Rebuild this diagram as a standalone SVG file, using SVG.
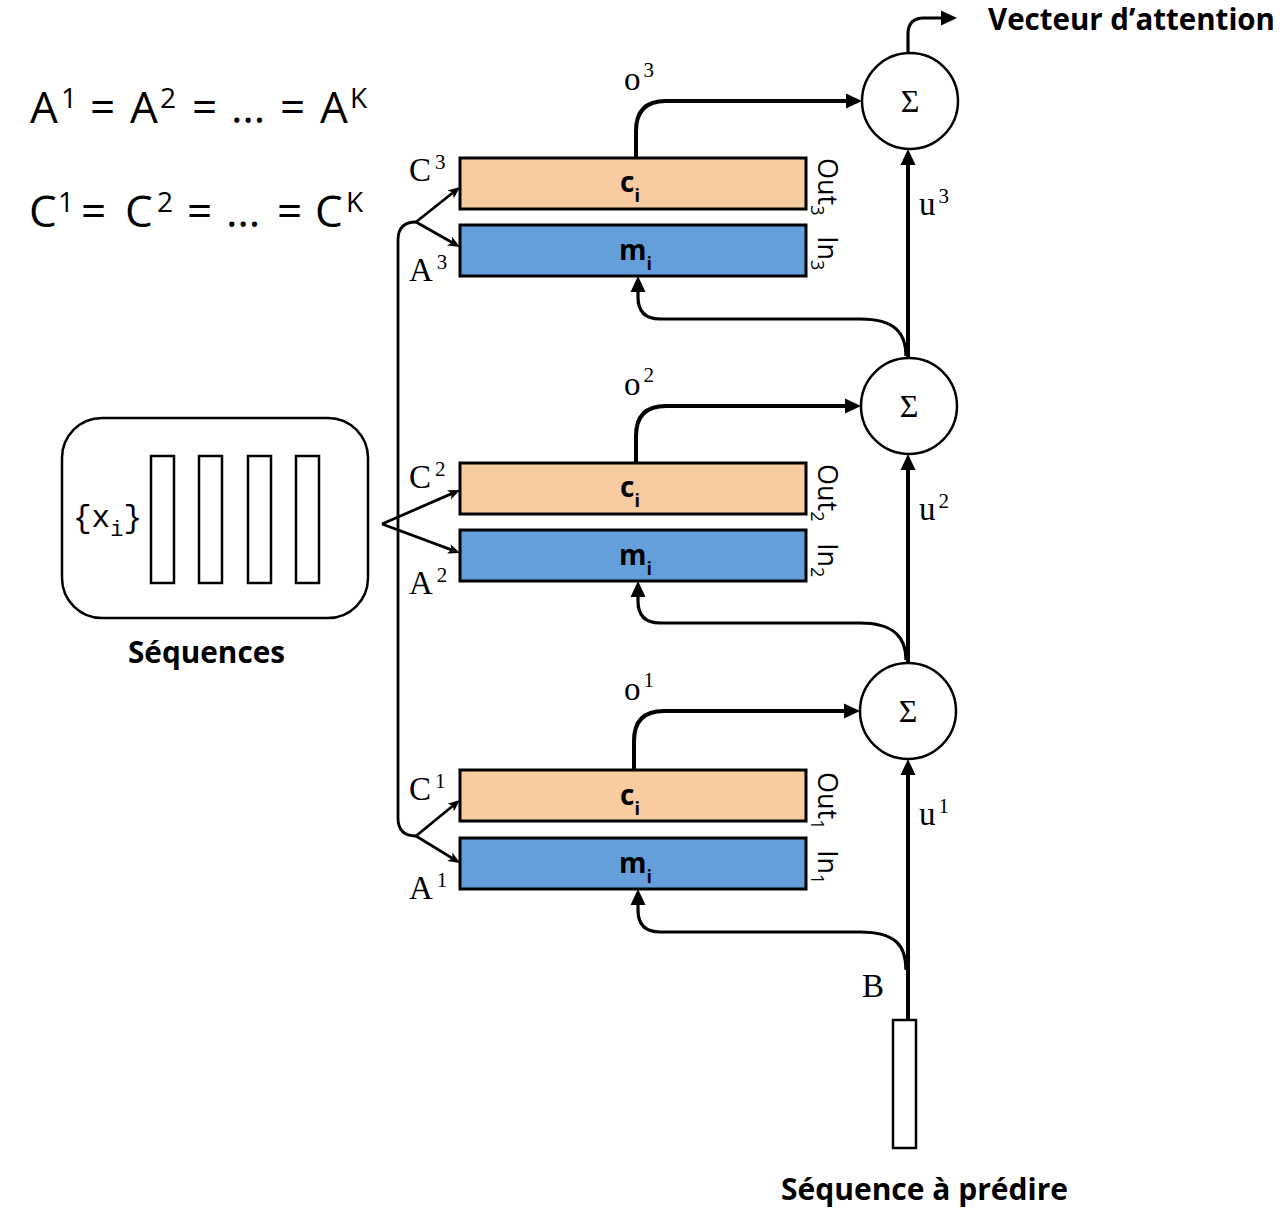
<svg xmlns="http://www.w3.org/2000/svg" width="1287" height="1218" viewBox="0 0 1287 1218">
<style>
.mono{font-family:"Liberation Mono","DejaVu Sans Mono",monospace;fill:#000}
.lbl{font-family:"Liberation Serif","DejaVu Serif",serif;fill:#000}
.sans{font-family:"Open Sans","Noto Sans","Liberation Sans",sans-serif;fill:#000}
.serif{font-family:"Liberation Serif","DejaVu Serif",serif;fill:#000}
.b{font-weight:bold}
.cbox{fill:#F8CBA0;stroke:#000;stroke-width:3}
.mbox{fill:#659FDB;stroke:#000;stroke-width:3}
.sum{fill:#fff;stroke:#000;stroke-width:2.5}
.thick{fill:none;stroke:#000;stroke-width:4}
.mid{fill:none;stroke:#000;stroke-width:3.2}
.thin{fill:none;stroke:#000;stroke-width:2.8}
.bar{fill:#fff;stroke:#000;stroke-width:2.5}
</style>
<defs>
<marker id="ah" markerUnits="userSpaceOnUse" markerWidth="20" markerHeight="20" refX="0" refY="0" orient="auto" overflow="visible">
<path d="M0,-7.5 L16,0 L0,7.5 z" fill="#000"/>
</marker>
<marker id="sa" markerUnits="userSpaceOnUse" markerWidth="16" markerHeight="16" refX="0" refY="0" orient="auto" overflow="visible">
<path d="M-8,-5 L4,0 L-8,5 L-5,0 z" fill="#000"/>
</marker>
</defs>
<rect width="1287" height="1218" fill="#fff"/>

<g id="equations">
<text class="sans" font-size="44"><tspan x="30" y="123">A</tspan><tspan x="61" y="108" font-size="28">1</tspan><tspan x="90" y="123">=</tspan><tspan x="130" y="123">A</tspan><tspan x="160" y="108" font-size="28">2</tspan><tspan x="192" y="123">=</tspan><tspan x="231" y="123">…</tspan><tspan x="280" y="123">=</tspan><tspan x="320" y="123">A</tspan><tspan x="350" y="108" font-size="28">K</tspan></text>
<text class="sans" font-size="44"><tspan x="29" y="227">C</tspan><tspan x="58" y="212" font-size="28">1</tspan><tspan x="81" y="227">=</tspan><tspan x="125" y="227">C</tspan><tspan x="157" y="212" font-size="28">2</tspan><tspan x="187" y="227">=</tspan><tspan x="226" y="227">…</tspan><tspan x="277" y="227">=</tspan><tspan x="315" y="227">C</tspan><tspan x="346" y="212" font-size="28">K</tspan></text>
</g>

<g id="sequences">
<rect x="62" y="418" width="306" height="200" rx="40" ry="40" fill="#fff" stroke="#000" stroke-width="2.5"/>
<rect class="bar" x="151" y="456" width="23" height="127"/>
<rect class="bar" x="199" y="456" width="23" height="127"/>
<rect class="bar" x="248" y="456" width="23" height="127"/>
<rect class="bar" x="296" y="456" width="23" height="127"/>
<text class="mono" x="73" y="527" font-size="31">{x<tspan font-size="22" dy="9">i</tspan><tspan dy="-9">}</tspan></text>
<text class="sans b" x="128" y="663" font-size="30" textLength="157" lengthAdjust="spacingAndGlyphs">Séquences</text>
</g>

<g id="block3">
<rect class="cbox" x="460" y="158" width="346" height="51"/>
<rect class="mbox" x="460" y="225" width="346" height="51"/>
<text class="sans b" x="620" y="192" font-size="28">c<tspan font-size="18" dy="10">i</tspan></text>
<text class="sans b" x="619" y="260" font-size="28">m<tspan font-size="18" dy="10">i</tspan></text>
<text class="lbl" x="409" y="181" font-size="33">C<tspan font-size="21" dy="-12" dx="4">3</tspan></text>
<text class="lbl" x="409" y="281" font-size="33">A<tspan font-size="21" dy="-12" dx="4">3</tspan></text>
<text class="sans" transform="translate(818,158) rotate(90)" font-size="27">Out<tspan font-size="18" dy="7">3</tspan></text>
<text class="sans" transform="translate(818,236) rotate(90)" font-size="27">In<tspan font-size="18" dy="7">3</tspan></text>
<text class="lbl" x="624" y="90" font-size="33">o<tspan font-size="21" dy="-13" dx="3">3</tspan></text>
</g>

<g id="block2">
<rect class="cbox" x="460" y="463" width="346" height="51"/>
<rect class="mbox" x="460" y="530" width="346" height="51"/>
<text class="sans b" x="620" y="497" font-size="28">c<tspan font-size="18" dy="10">i</tspan></text>
<text class="sans b" x="619" y="565" font-size="28">m<tspan font-size="18" dy="10">i</tspan></text>
<text class="lbl" x="409" y="488" font-size="33">C<tspan font-size="21" dy="-12" dx="4">2</tspan></text>
<text class="lbl" x="409" y="594" font-size="33">A<tspan font-size="21" dy="-12" dx="4">2</tspan></text>
<text class="sans" transform="translate(818,464) rotate(90)" font-size="27">Out<tspan font-size="18" dy="7">2</tspan></text>
<text class="sans" transform="translate(818,543) rotate(90)" font-size="27">In<tspan font-size="18" dy="7">2</tspan></text>
<text class="lbl" x="624" y="395" font-size="33">o<tspan font-size="21" dy="-13" dx="3">2</tspan></text>
</g>

<g id="block1">
<rect class="cbox" x="460" y="770" width="346" height="51"/>
<rect class="mbox" x="460" y="838" width="346" height="51"/>
<text class="sans b" x="620" y="805" font-size="28">c<tspan font-size="18" dy="10">i</tspan></text>
<text class="sans b" x="619" y="873" font-size="28">m<tspan font-size="18" dy="10">i</tspan></text>
<text class="lbl" x="409" y="800" font-size="33">C<tspan font-size="21" dy="-12" dx="4">1</tspan></text>
<text class="lbl" x="409" y="899" font-size="33">A<tspan font-size="21" dy="-12" dx="4">1</tspan></text>
<text class="sans" transform="translate(818,772) rotate(90)" font-size="27">Out<tspan font-size="18" dy="7">1</tspan></text>
<text class="sans" transform="translate(818,850) rotate(90)" font-size="27">In<tspan font-size="18" dy="7">1</tspan></text>
<text class="lbl" x="624" y="700" font-size="33">o<tspan font-size="21" dy="-13" dx="3">1</tspan></text>
</g>

<g id="sum3">
<circle class="sum" cx="910" cy="101" r="48"/>
<text class="serif" x="910" y="112" text-anchor="middle" font-size="32">Σ</text>
</g>
<g id="sum2">
<circle class="sum" cx="909" cy="406" r="48"/>
<text class="serif" x="909" y="417" text-anchor="middle" font-size="32">Σ</text>
</g>
<g id="sum1">
<circle class="sum" cx="908" cy="711" r="48"/>
<text class="serif" x="908" y="722" text-anchor="middle" font-size="32">Σ</text>
</g>

<g id="query">
<rect x="893" y="1020" width="23" height="128" fill="#fff" stroke="#000" stroke-width="2.5"/>
<text class="lbl" x="862" y="997" font-size="33">B</text>
<text class="sans b" x="781" y="1200" font-size="30" textLength="287" lengthAdjust="spacingAndGlyphs">Séquence à prédire</text>
</g>

<g id="output">
<text class="sans b" x="988" y="30" font-size="30" textLength="287" lengthAdjust="spacingAndGlyphs">Vecteur d’attention</text>
</g>

<g id="u-labels">
<text class="lbl" x="919" y="215" font-size="33">u<tspan font-size="21" dy="-12" dx="3">3</tspan></text>
<text class="lbl" x="919" y="520" font-size="33">u<tspan font-size="21" dy="-12" dx="3">2</tspan></text>
<text class="lbl" x="919" y="825" font-size="33">u<tspan font-size="21" dy="-12" dx="3">1</tspan></text>
</g>

<g id="connectors">
<path class="thin" d="M416 222 Q398 222 398 240 L398 818 Q398 836 416 836"/>
<path class="thin" d="M416 222 L456.9 189.5" marker-end="url(#sa)"/>
<path class="thin" d="M416 222 L456.5 245" marker-end="url(#sa)"/>
<path class="thin" d="M382 524 L456.3 491.6" marker-end="url(#sa)"/>
<path class="thin" d="M382 524 L456.3 551.6" marker-end="url(#sa)"/>
<path class="thin" d="M416 836 L456.9 802.5" marker-end="url(#sa)"/>
<path class="thin" d="M416 836 L456.6 860.9" marker-end="url(#sa)"/>
<path class="thick" d="M636 157 L636 131 Q636 101 666 101 L846 101" marker-end="url(#ah)"/>
<path class="thick" d="M636 463 L636 436 Q636 406 666 406 L845 406" marker-end="url(#ah)"/>
<path class="thick" d="M634 770 L634 741 Q634 711 664 711 L844 711" marker-end="url(#ah)"/>
<path class="thick" d="M908 1020 L908 775" marker-end="url(#ah)"/>
<path class="thick" d="M908 663 L908 470" marker-end="url(#ah)"/>
<path class="thick" d="M908 358 L908 165" marker-end="url(#ah)"/>
<path class="mid" d="M908 53 L908 34 Q908 18 924 18 L941 18" marker-end="url(#ah)"/>
<path class="mid" d="M906 970 C906 945 895 932 860 932 L660 932 Q638 932 638 910 L638 905" marker-end="url(#ah)"/>
<path class="mid" d="M906 660 C906 638 895 623 860 623 L660 623 Q638 623 638 601 L638 597" marker-end="url(#ah)"/>
<path class="mid" d="M906 356 C906 333 895 319 860 319 L660 319 Q638 319 638 297 L638 292" marker-end="url(#ah)"/>
</g>
</svg>
